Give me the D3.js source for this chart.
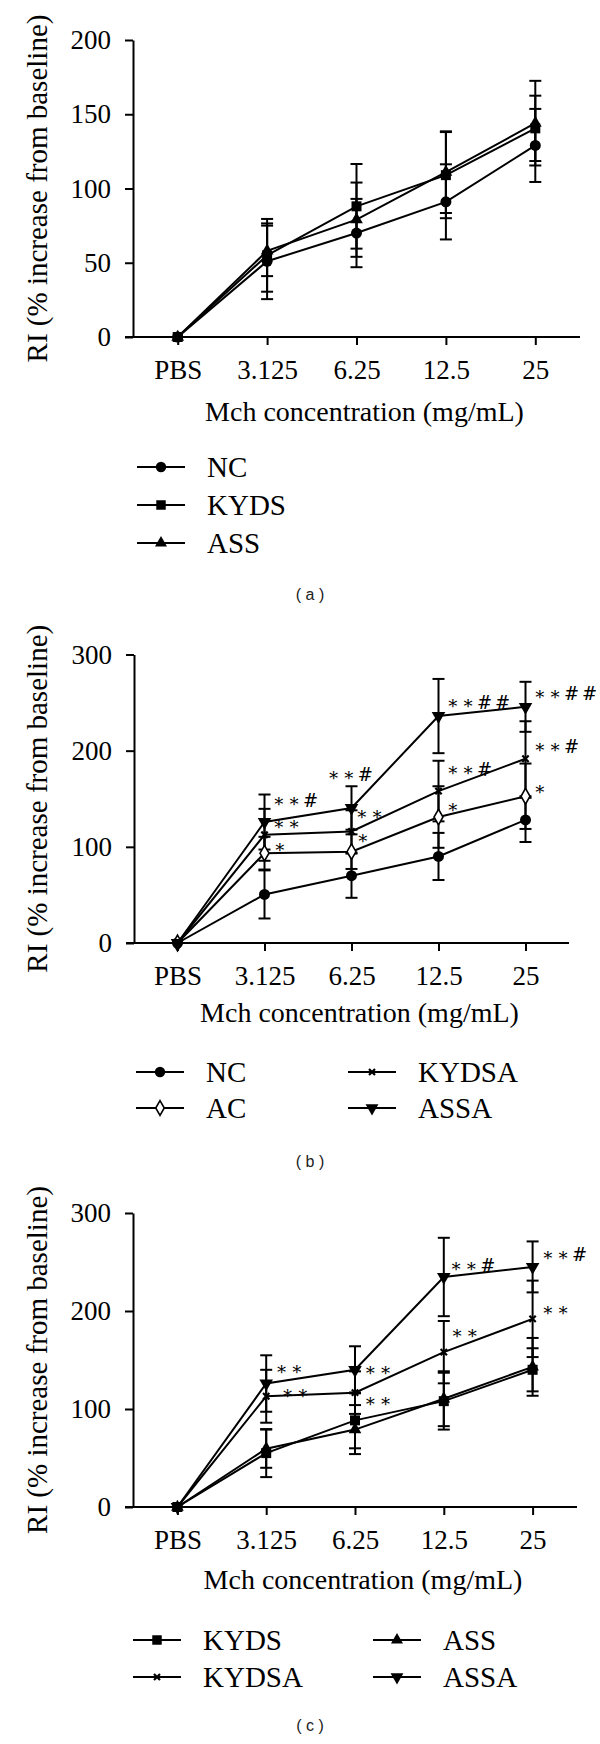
<!DOCTYPE html>
<html><head><meta charset="utf-8">
<script src="https://cdn.jsdelivr.net/npm/d3@7"></script>
<style>body{margin:0;background:#fff}svg{display:block}</style>
</head><body>
<script>
// ---------------- data ----------------
const categories = ["PBS", "3.125", "6.25", "12.5", "25"];
const yTicksA = [0, 50, 100, 150, 200];
const yTicksBC = [0, 100, 200, 300];
const yTitle = "RI (% increase from baseline)";
const xTitle = "Mch concentration (mg/mL)";

// Panel (a)
const aNC = [0, 51, 70, 91, 129];
const aNCsd = [0, 25.5, 23, 25.3, 24.6];
const aKYDS = [0, 55, 88, 109, 140.5];
const aKYDSsd = [0, 24.5, 28.5, 29, 22];
const aASS = [0, 58, 79, 111, 144];
const aASSsd = [0, 17, 25, 27.5, 28.5];

// Panel (b)
const bNC = [0, 50.5, 70, 90, 128];
const bNCsd = [0, 25, 23, 24.5, 23];
const bAC = [0, 93.4, 95, 131, 152.6];
const bACsd = [0, 17, 18, 32, 34];
const bKYDSA = [0, 112.5, 116, 158, 191.6];
const bKYDSAsd = [0, 27, 22, 31.5, 39];
const bASSA = [0, 125.8, 140.4, 236, 245.6];
const bASSAsd = [0, 28.6, 22.6, 38.6, 26];
const bACsig = ["", "*", "*", "*", "*"];
const bKYDSAsig = ["", "**", "**", "**#", "**#"];
const bASSAsig = ["", "**#", "**#", "**##", "**##"];

// Panel (c)
const cKYDS = [0, 55, 88.4, 108, 140];
const cKYDSsd = [0, 24.5, 28.5, 29, 22];
const cASS = [0, 59.5, 79, 110.5, 143];
const cASSsd = [0, 19.5, 25, 28, 29.5];
const cKYDSA = [0, 113, 116.7, 158, 192];
const cKYDSAsd = [0, 27, 21.7, 31.8, 39];
const cASSA = [0, 126, 140, 234.7, 245];
const cASSAsd = [0, 28.8, 24, 40, 26];
const cKYDSAsig = ["", "**", "**", "**", "**"];
const cASSAsig = ["", "**", "**", "**#", "**#"];

// ---------------- drawing ----------------
const W = 600, H = 1744;
const SERIF = "'Liberation Serif','Times New Roman',serif";
const svg = d3.select("body").append("svg").attr("width", W).attr("height", H);

const markerStyle = {
  NC:    {type: d3.symbolCircle, size: 95, fill: "#000", stroke: "none", rot: 0},
  KYDS:  {type: d3.symbolSquare, size: 100, fill: "#000", stroke: "none", rot: 0},
  ASS:   {type: d3.symbolTriangle, size: 70, fill: "#000", stroke: "none", rot: 0},
  AC:    {type: d3.symbolDiamond, size: 70, fill: "#fff", stroke: "#000", rot: 0},
  KYDSA: {type: d3.symbolX, size: 28, fill: "none", stroke: "#000", rot: 0},
  ASSA:  {type: d3.symbolTriangle, size: 80, fill: "#000", stroke: "none", rot: 180}
};

function drawMarker(g, name, x, y, scale) {
  const m = markerStyle[name];
  g.append("path")
    .attr("d", d3.symbol().type(m.type).size(m.size * (scale || 1))())
    .attr("transform", `translate(${x},${y}) rotate(${m.rot})`)
    .attr("fill", m.fill)
    .attr("stroke", m.stroke)
    .attr("stroke-width", name === "KYDSA" ? 2.2 : 1.6);
}

function sig(s) { return s.replace(/\*/g, "\u2217"); }

function panel(cfg) {
  const g = svg.append("g");
  const x = d3.scalePoint().domain(categories).range([cfg.left, cfg.right]).padding(0.5);
  const y = d3.scaleLinear().domain([0, cfg.ymax]).range([cfg.y0, cfg.ytop]);

  // axes
  const yAxis = g.append("g").attr("transform", `translate(${cfg.left},0)`)
    .call(d3.axisLeft(y).tickValues(cfg.yTicks).tickSize(8).tickPadding(14).tickSizeOuter(0));
  const xAxis = g.append("g").attr("transform", `translate(0,${cfg.y0})`)
    .call(d3.axisBottom(x).tickSize(8).tickPadding(15).tickSizeOuter(0));
  [yAxis, xAxis].forEach(a => {
    a.select(".domain").attr("stroke", "#000").attr("stroke-width", 2);
    a.selectAll(".tick line").attr("stroke", "#000").attr("stroke-width", 2);
    a.selectAll(".tick text").attr("fill", "#000").style("font-family", SERIF).style("font-size", "27px");
  });
  xAxis.select(".domain").attr("d", `M${cfg.left - 8},0H${cfg.right}`);

  // axis titles
  g.append("text").attr("transform", `translate(${cfg.ylabX},${(cfg.y0 + cfg.ytop) / 2}) rotate(-90)`)
    .attr("text-anchor", "middle").style("font-family", SERIF).style("font-size", "29px").text(yTitle);
  g.append("text").attr("x", x(categories[2]) + 8).attr("y", cfg.titleY)
    .attr("text-anchor", "middle").style("font-family", SERIF).style("font-size", "28px").text(xTitle);

  const line = d3.line().x((d, i) => x(categories[i])).y(d => y(d));

  cfg.series.forEach(s => {
    s.values.forEach((v, i) => {
      const e = s.sd[i];
      if (!e) return;
      const cx = x(categories[i]);
      g.append("line").attr("x1", cx).attr("x2", cx).attr("y1", y(v - e)).attr("y2", y(v + e))
        .attr("stroke", "#000").attr("stroke-width", 2);
      [v - e, v + e].forEach(t => g.append("line").attr("x1", cx - 6).attr("x2", cx + 6)
        .attr("y1", y(t)).attr("y2", y(t)).attr("stroke", "#000").attr("stroke-width", 2));
    });
  });
  cfg.series.forEach(s => {
    g.append("path").datum(s.values).attr("d", line).attr("fill", "none")
      .attr("stroke", "#000").attr("stroke-width", 2);
  });
  cfg.series.forEach(s => {
    s.values.forEach((v, i) => drawMarker(g, s.name, x(categories[i]), y(v)));
  });
  // significance labels (placement nudges are layout only)
  cfg.series.forEach(s => {
    if (!s.sig) return;
    s.values.forEach((v, i) => {
      const t = s.sig[i];
      if (!t) return;
      const o = (cfg.nudge && cfg.nudge[s.name + i]) || {};
      let tx = x(categories[i]) + (o.dx !== undefined ? o.dx : 8);
      let ty = y(v) + (o.dy !== undefined ? o.dy : -10);
      let anchor = "start";
      if (o.above) { tx = x(categories[i]); ty = y(v + s.sd[i]) - 12; anchor = "middle"; }
      g.append("text").attr("x", tx).attr("y", ty).attr("text-anchor", anchor)
        .attr("dominant-baseline", "central")
        .style("font-family", "'DejaVu Serif','Liberation Serif',serif").style("font-size", "18px")
        .style("letter-spacing", "3px").text(sig(t));
    });
  });

  // legend
  cfg.legend.forEach(l => {
    g.append("line").attr("x1", l.x).attr("x2", l.x + 48).attr("y1", l.y).attr("y2", l.y)
      .attr("stroke", "#000").attr("stroke-width", 2);
    drawMarker(g, l.name, l.x + 24, l.y, 0.9);
    g.append("text").attr("x", l.x + 70).attr("y", l.y).attr("dy", "0.35em")
      .style("font-family", SERIF).style("font-size", "29px").text(l.name);
  });

  // panel label
  g.append("text").attr("x", 310).attr("y", cfg.tagY).attr("text-anchor", "middle")
    .style("font-family", "'Liberation Sans',Arial,sans-serif").style("font-size", "16px")
    .attr("fill", "#222").text(cfg.tag);
}

panel({
  left: 133, right: 580, y0: 337, ytop: 40, ymax: 200, yTicks: yTicksA, ylabX: 47, titleY: 421,
  series: [
    {name: "NC", values: aNC, sd: aNCsd},
    {name: "KYDS", values: aKYDS, sd: aKYDSsd},
    {name: "ASS", values: aASS, sd: aASSsd}
  ],
  legend: [
    {name: "NC", x: 137, y: 467},
    {name: "KYDS", x: 137, y: 505},
    {name: "ASS", x: 137, y: 543}
  ],
  tag: "( a )", tagY: 600
});

panel({
  left: 134, right: 569, y0: 943, ytop: 654.5, ymax: 300, yTicks: yTicksBC, ylabX: 47, titleY: 1022,
  series: [
    {name: "NC", values: bNC, sd: bNCsd},
    {name: "AC", values: bAC, sd: bACsd, sig: bACsig},
    {name: "KYDSA", values: bKYDSA, sd: bKYDSAsd, sig: bKYDSAsig},
    {name: "ASSA", values: bASSA, sd: bASSAsd, sig: bASSAsig}
  ],
  nudge: {
    AC1: {dx: 9, dy: -7}, KYDSA1: {dy: -11}, ASSA1: {dy: -22},
    AC2: {dx: 5, dy: -14}, KYDSA2: {dx: 4, dy: -18}, ASSA2: {above: true},
    AC3: {dy: -11}, KYDSA3: {dy: -22}, ASSA3: {dy: -14},
    AC4: {dy: -8}, KYDSA4: {dy: -12}, ASSA4: {dy: -13}
  },
  legend: [
    {name: "NC", x: 136, y: 1072},
    {name: "AC", x: 136, y: 1108},
    {name: "KYDSA", x: 348, y: 1072},
    {name: "ASSA", x: 348, y: 1108}
  ],
  tag: "( b )", tagY: 1167
});

panel({
  left: 133, right: 577, y0: 1507, ytop: 1213, ymax: 300, yTicks: yTicksBC, ylabX: 47, titleY: 1589,
  series: [
    {name: "KYDS", values: cKYDS, sd: cKYDSsd},
    {name: "ASS", values: cASS, sd: cASSsd},
    {name: "KYDSA", values: cKYDSA, sd: cKYDSAsd, sig: cKYDSAsig},
    {name: "ASSA", values: cASSA, sd: cASSAsd, sig: cASSAsig}
  ],
  nudge: {
    ASSA1: {dx: 9, dy: -15}, KYDSA1: {dx: 15, dy: -4},
    ASSA2: {dx: 9, dy: 0}, KYDSA2: {dx: 9, dy: 8},
    ASSA3: {dx: 6, dy: -11}, KYDSA3: {dx: 7, dy: -20},
    ASSA4: {dx: 9, dy: -12}, KYDSA4: {dx: 9, dy: -9}
  },
  legend: [
    {name: "KYDS", x: 133, y: 1640},
    {name: "KYDSA", x: 133, y: 1677},
    {name: "ASS", x: 373, y: 1640},
    {name: "ASSA", x: 373, y: 1677}
  ],
  tag: "( c )", tagY: 1731
});
</script>
</body></html>
